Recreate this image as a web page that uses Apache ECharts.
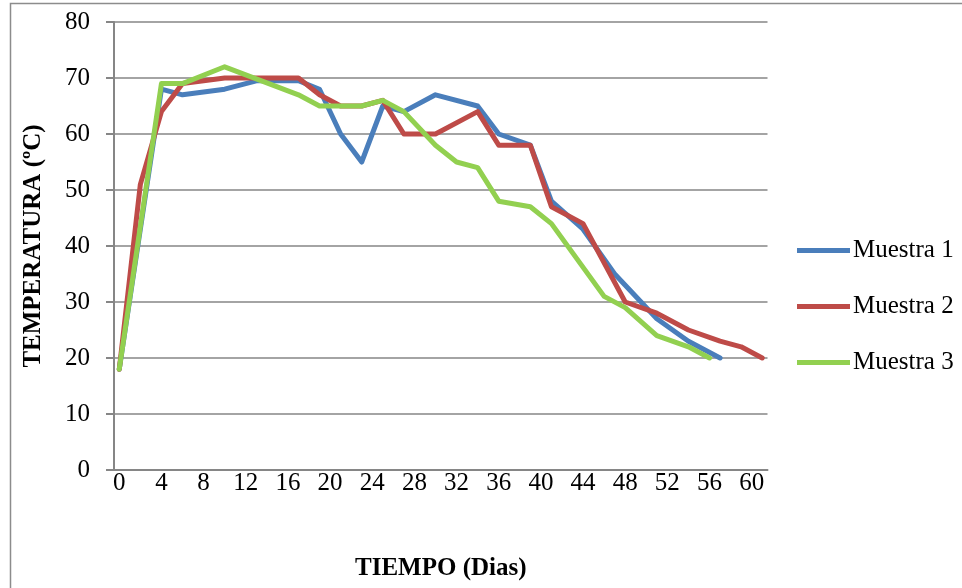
<!DOCTYPE html>
<html>
<head>
<meta charset="utf-8">
<script src="https://cdn.jsdelivr.net/npm/echarts@6/dist/echarts.min.js"></script>
<style>
html,body{margin:0;padding:0;background:#fff;}
#c{width:962px;height:588px;}
</style>
</head>
<body>
<div id="c"></div>
<script>
// Category axis: days 0..61
var categories = [];
for (var d = 0; d <= 61; d++) categories.push(String(d));

var days1 = [0, 4, 6, 10, 13, 17, 19, 21, 23, 25, 27, 30, 34, 36, 39, 41, 44, 47, 51, 54, 57];
var temp1 = [18, 68, 67, 68, 69.5, 69.5, 68, 60, 55, 65, 64, 67, 65, 60, 58, 48, 43, 35, 27, 23, 20];

var days2 = [0, 2, 4, 6, 10, 17, 19, 21, 23, 25, 27, 30, 34, 36, 39, 41, 44, 48, 51, 54, 57, 59, 61];
var temp2 = [18, 51, 64, 69, 70, 70, 67, 65, 65, 66, 60, 60, 64, 58, 58, 47, 44, 30, 28, 25, 23, 22, 20];

var days3 = [0, 4, 6, 10, 17, 19, 23, 25, 27, 30, 32, 34, 36, 39, 41, 46, 48, 51, 54, 56];
var temp3 = [18, 69, 69, 72, 67, 65, 65, 66, 64, 58, 55, 54, 48, 47, 44, 31, 29, 24, 22, 20];

var seriesNames = ['Muestra 1', 'Muestra 2', 'Muestra 3'];
var colors = ['#4A7EBB', '#BE4B48', '#92D050'];

function pairs(ds, ts) { return ds.map(function (d, i) { return [d, ts[i]]; }); }

var font = '"Liberation Serif", "Times New Roman", serif';
var axisGray = '#868686';
var fs = 25;

var chart = echarts.init(document.getElementById('c'), null, {renderer: 'canvas'});
var lineSeries = [pairs(days1, temp1), pairs(days2, temp2), pairs(days3, temp3)].map(function (data, i) {
  return {
    name: seriesNames[i],
    type: 'line',
    data: data,
    symbol: 'none',
    color: colors[i],
    lineStyle: {width: 5, color: colors[i], cap: 'round', join: 'round'},
    animation: false
  };
});

chart.setOption({
  animation: false,
  backgroundColor: '#ffffff',
  graphic: [{
    type: 'rect',
    shape: {x: 10.5, y: 3.5, width: 1000, height: 700},
    style: {fill: 'none', stroke: '#8c8c8c', lineWidth: 1.5},
    silent: true
  }],
  grid: {left: 114, top: 22, right: 194.5, bottom: 118, containLabel: false},
  legend: {
    orient: 'vertical',
    left: 792,
    top: 233,
    itemGap: 31,
    itemWidth: 53,
    itemHeight: 5,
    icon: 'rect',
    textStyle: {fontFamily: font, fontSize: fs, color: '#000', padding: [0, 0, 0, -2]},
    data: seriesNames
  },
  xAxis: {
    type: 'category',
    data: categories,
    boundaryGap: true,
    name: 'TIEMPO (Dias)',
    nameLocation: 'middle',
    nameGap: 86,
    nameTextStyle: {fontFamily: font, fontSize: fs, fontWeight: 'bold', color: '#000'},
    axisLine: {show: true, lineStyle: {color: axisGray, width: 2}},
    axisTick: {show: false},
    axisLabel: {interval: 3, margin: 1, fontFamily: font, fontSize: fs, color: '#000'},
    splitLine: {show: false}
  },
  yAxis: {
    type: 'value',
    min: 0,
    max: 80,
    interval: 10,
    name: 'TEMPERATURA (ºC)',
    nameLocation: 'middle',
    nameGap: 68,
    nameRotate: 90,
    nameTextStyle: {fontFamily: font, fontSize: fs, fontWeight: 'bold', color: '#000'},
    axisLine: {show: true, lineStyle: {color: axisGray, width: 2}},
    axisTick: {show: true, inside: false, length: 8, lineStyle: {color: axisGray, width: 2}},
    axisLabel: {margin: 24, fontFamily: font, fontSize: fs, color: '#000'},
    splitLine: {show: true, lineStyle: {color: axisGray, width: 1.5}}
  },
  series: lineSeries
});
</script>
</body>
</html>
